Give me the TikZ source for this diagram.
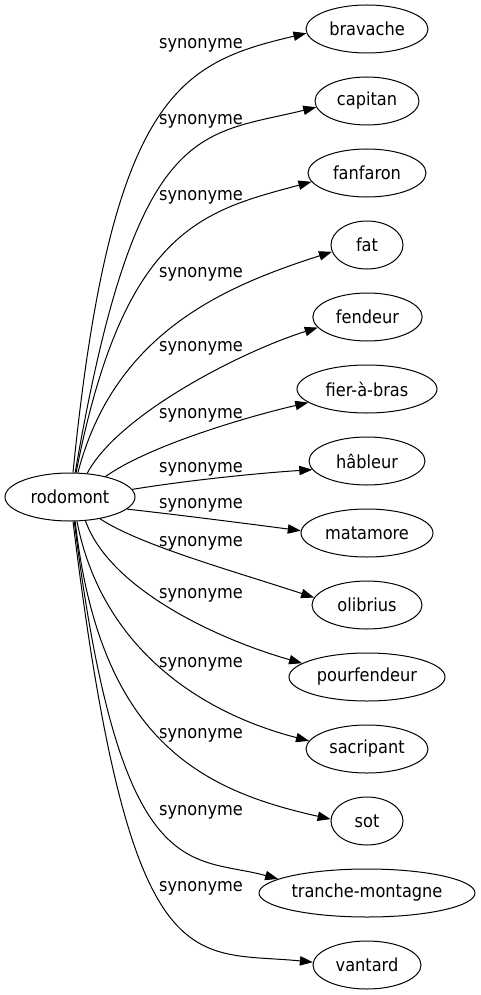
\documentclass[tikz,border=0pt]{standalone}
\usepackage{fontspec}
\setmainfont{DejaVu Sans Condensed}
\usetikzlibrary{shapes.geometric,arrows.meta}

\begin{document}
\begin{tikzpicture}[x=0.75pt,y=-0.75pt,
    word/.style={draw,ellipse,line width=0.75pt,inner sep=0pt,minimum height=36pt,font=\fontsize{13.5}{16}\selectfont},
    syn/.style={font=\fontsize{13.5}{16}\selectfont,inner sep=0pt},
    link/.style={line width=0.75pt,-{Triangle[length=9.75pt,width=7pt]}}]
            \useasboundingbox (0,0) rectangle (480,995);

            %words
            \node[word,minimum width=97.5pt] (rodomont) at (70,497) {rodomont};

            \node[word,minimum width=91.5pt] (bravache) at (367,29) {bravache};
            \node[word,minimum width=78pt] (capitan) at (367,101) {capitan};
            \node[word,minimum width=88.5pt] (fanfaron) at (367,173) {fanfaron};
            \node[word,minimum width=54pt] (fat) at (367,245) {fat};
            \node[word,minimum width=82pt] (fendeur) at (367.5,317) {fendeur};
            \node[word,minimum width=105pt] (fierabras) at (367,389) {fier-à-bras};
            \node[word,minimum width=87pt] (hableur) at (367,461) {hâbleur};
            \node[word,minimum width=99pt] (matamore) at (367,533) {matamore};
            \node[word,minimum width=82.5pt] (olibrius) at (367,605) {olibrius};
            \node[word,minimum width=117pt] (pourfendeur) at (367,677) {pourfendeur};
            \node[word,minimum width=91.5pt] (sacripant) at (367,749) {sacripant};
            \node[word,minimum width=54pt] (sot) at (367,821) {sot};
            \node[word,minimum width=162pt] (tranche) at (367,893) {tranche-montagne};
            \node[word,minimum width=81pt] (vantard) at (367,965) {vantard};

            %labels
            \node[syn] (syn1) at (201,45) {synonyme};
            \node[syn] (syn2) at (201,121) {synonyme};
            \node[syn] (syn3) at (201,197) {synonyme};
            \node[syn] (syn4) at (201,274) {synonyme};
            \node[syn] (syn5) at (201,348) {synonyme};
            \node[syn] (syn6) at (201,415) {synonyme};
            \node[syn] (syn7) at (201,469) {synonyme};
            \node[syn] (syn8) at (201,505) {synonyme};
            \node[syn] (syn9) at (201,543) {synonyme};
            \node[syn] (syn10) at (201,595) {synonyme};
            \node[syn] (syn11) at (201,664) {synonyme};
            \node[syn] (syn12) at (201,735) {synonyme};
            \node[syn] (syn13) at (201,812) {synonyme};
            \node[syn] (syn14) at (201,888) {synonyme};

            %edges
            \draw[link] (rodomont.83) .. controls (111,93) and (180,63) .. (bravache.184);
            \draw[link] (rodomont.78) .. controls (136,119) and (199,136) .. (capitan.187);
            \draw[link] (rodomont.76) .. controls (124,228) and (203,211) .. (fanfaron.189);
            \draw[link] (rodomont.72) .. controls (115,330) and (229,285) .. (fat.191);
            \draw[link] (rodomont.54) .. controls (118,415) and (240,352) .. (fendeur.192);
            \draw[link] (rodomont.30) .. controls (150,445) and (250,416) .. (fierabras.193);
            \draw[link] (rodomont.7) .. controls (190,480) and (260,473) .. (hableur.189);
            \draw[link] (rodomont.-12) .. controls (180,515) and (250,524) .. (matamore.178);
            \draw[link] (rodomont.-36) .. controls (140,545) and (230,570) .. (olibrius.172);
            \draw[link] (rodomont.-57) .. controls (110,590) and (220,640) .. (pourfendeur.168);
            \draw[link] (rodomont.-74) .. controls (100,640) and (190,710) .. (sacripant.172);
            \draw[link] (rodomont.-78) .. controls (100,740) and (200,790) .. (sot.177);
            \draw[link] (rodomont.-80) .. controls (120,890) and (190,855) .. (tranche.171);
            \draw[link] (rodomont.-83) .. controls (130,990) and (190,950) .. (vantard.177);
\end{tikzpicture}
\end{document}
